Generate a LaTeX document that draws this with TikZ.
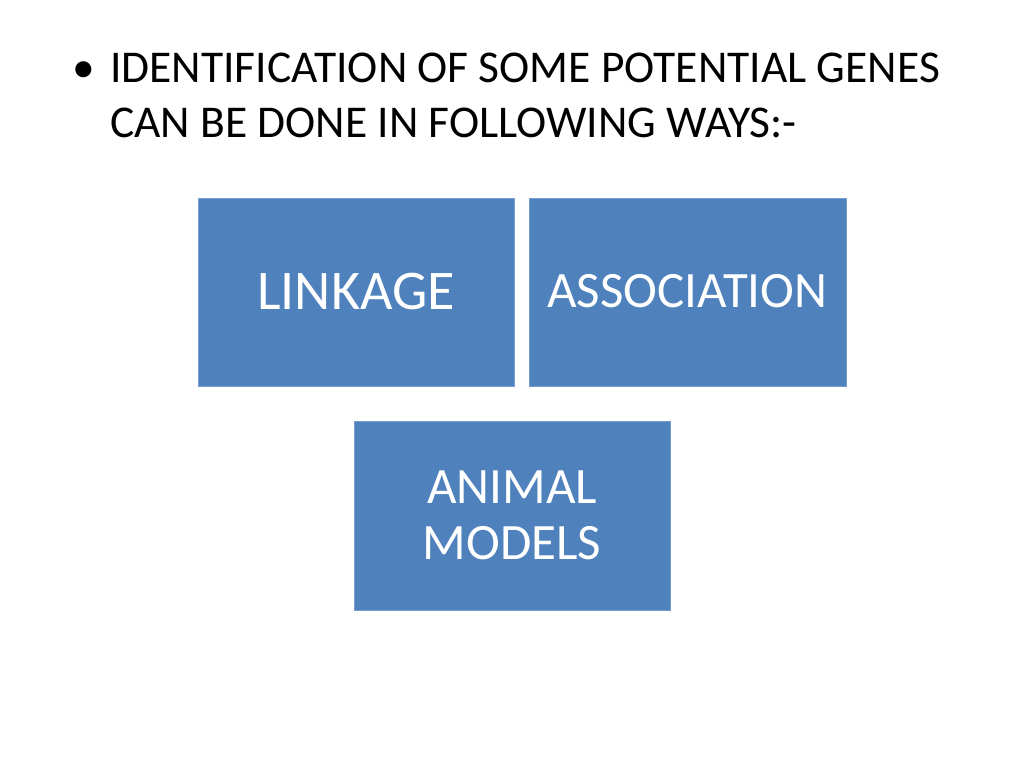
\documentclass[tikz,border=0pt]{standalone}
\usepackage{fontspec}
\setmainfont{Carlito}
\begin{document}
\begin{tikzpicture}[x=1pt,y=-1pt,
  box/.style={draw={rgb,255:red,120;green,160;blue,210}, line width=0.8pt, fill={rgb,255:red,79;green,129;blue,189}, text=white, inner sep=0pt},
  ttl/.style={anchor=base west, inner sep=0pt, font=\fontsize{45.5}{55}\selectfont}]
\useasboundingbox (0,0) rectangle (1024,768);
\node[ttl] (b) at (72,82) {\textbullet};
\node[ttl] (t1) at (110,82) {IDENTIFICATION OF SOME POTENTIAL GENES};
\node[ttl] (t2) at (110,137) {CAN BE DONE IN FOLLOWING WAYS:-};
\node[box, minimum width=316pt, minimum height=188pt, font=\fontsize{56}{60}\selectfont] (l) at (356,292) {LINKAGE};
\node[box, minimum width=317pt, minimum height=188pt] (a) at (687.5,292) {};
\node[text=white, font=\fontsize{51}{55}\selectfont] (at) at (687.5,291) {ASSOCIATION};
\node[box, minimum width=316pt, minimum height=189pt, align=center, font=\fontsize{51}{56}\selectfont] (m) at (512,515.5) {ANIMAL\\MODELS};
\end{tikzpicture}
\end{document}
